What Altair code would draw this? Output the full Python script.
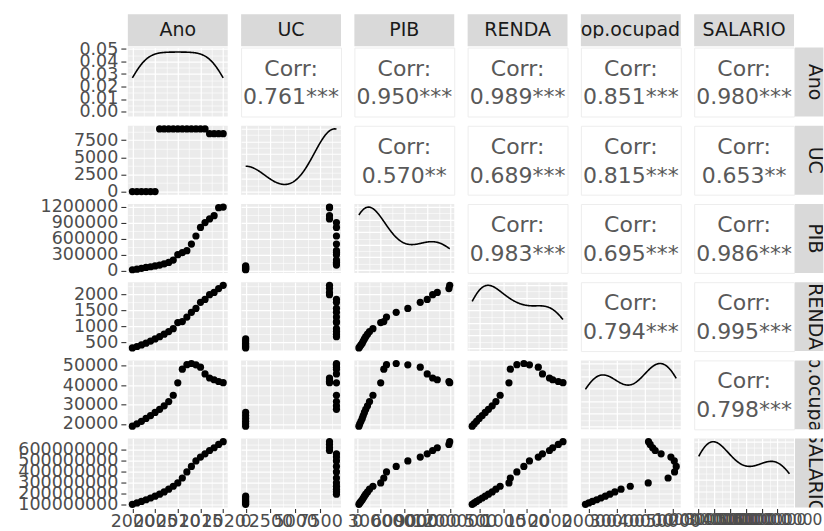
import altair as alt
import numpy as np
import pandas as pd

# ---------------------------------------------------------------- data
ano = list(range(2000, 2021))
uc = [0, 0, 0, 0, 0, 0,
      9150, 9150, 9150, 9150, 9150, 9150, 9150, 9150, 9150, 9150, 9150,
      8450, 8450, 8450, 8450]
pib = [19000, 30000, 45000, 62000, 75000, 90000, 107000, 130000, 156000, 200000,
       300000, 340000, 375000, 500000, 650000, 810000, 900000, 970000, 1030000,
       1180000, 1190000]
renda = [330, 375, 425, 480, 545, 610, 680, 760, 840, 930, 1120, 1150, 1290,
         1440, 1560, 1750, 1840, 1990, 2060, 2180, 2280]
pop_ocupada = [18800, 20000, 21300, 22800, 24300, 25900, 27500, 29300, 31500,
               34800, 41200, 48300, 50600, 51200, 50500, 49300, 45800, 43700,
               42800, 41900, 41300]
salario = [105e6, 118e6, 132e6, 147e6, 163e6, 180e6, 198e6, 218e6, 243e6,
           270e6, 300e6, 345e6, 400e6, 450e6, 500e6, 535e6, 565e6, 595e6,
           620e6, 650e6, 675e6]

cols = ["Ano", "UC", "PIB", "RENDA", "PopOcupada", "SALARIO"]
rotulos = ["Ano", "UC", "PIB", "RENDA", "Pop.ocupada", "SALARIO"]

# correlation labels, upper triangle read row by row
corr_txt = ["0.761***", "0.950***", "0.989***", "0.851***", "0.980***",
            "0.570**", "0.689***", "0.815***", "0.653**",
            "0.983***", "0.695***", "0.986***",
            "0.794***", "0.995***",
            "0.798***"]

# axis breaks per variable
breaks = {
    "Ano": [2000, 2005, 2010, 2015, 2020],
    "UC": [0, 2500, 5000, 7500],
    "PIB": [0, 300000, 600000, 900000, 1200000],
    "RENDA": [500, 1000, 1500, 2000],
    "PopOcupada": [20000, 30000, 40000, 50000],
    "SALARIO": [100000000, 200000000, 300000000, 400000000, 500000000, 600000000],
}
dens_breaks = [0.00, 0.01, 0.02, 0.03, 0.04, 0.05]
norm_breaks = [0.0, 0.2, 0.4, 0.6, 0.8, 1.0]

df = pd.DataFrame({"Ano": ano, "UC": uc, "PIB": pib, "RENDA": renda,
                   "PopOcupada": pop_ocupada, "SALARIO": salario})

# ---------------------------------------------------------------- style
FONT = "DejaVu Sans"
W, H = 100, 69                 # panel size
GAP_C, GAP_R = 13.4, 9.3       # gaps between panels
TOP_VIEW_H, TOP_RECT_H = 24, 32   # column strips (rect runs into the row gap)
SIDE_VIEW_W = 16                  # row strips (rect runs back into the column gap)
PANEL_BG = "#EBEBEB"
STRIP_BG = "#D9D9D9"
TXT = "#595959"
LABEL_SIZE = 17.5
STRIP_SIZE = 19


def nrd0(v):
    v = np.asarray(v, float)
    sd = v.std(ddof=1)
    q75, q25 = np.percentile(v, [75, 25])
    lo = min(sd, (q75 - q25) / 1.34)
    if lo <= 0:
        lo = sd
    return 0.9 * lo * len(v) ** -0.2


def extent(col):
    lo, hi = float(df[col].min()), float(df[col].max())
    pad = 0.05 * (hi - lo)
    return [lo - pad, hi + pad]


def grid_axis(major, dom, show, fmt, orient, size=LABEL_SIZE):
    step = major[1] - major[0]
    minors = [m + step / 2 for m in [major[0] - step] + major]
    vals = sorted(set(major + minors))
    vals = [v for v in vals if dom[0] <= v <= dom[1]]
    test = f"abs(datum.value / {step} - round(datum.value / {step})) > 0.001"
    kw = dict(values=vals, grid=True, gridColor="white",
              gridWidth={"condition": {"test": test, "value": 0.6}, "value": 1.2},
              domain=False, title=None, labels=show, ticks=show)
    if show:
        kw.update(format=fmt, labelExpr=f"({test}) ? '' : datum.label",
                  tickOpacity={"condition": {"test": test, "value": 0}, "value": 1},
                  labelOverlap=False, labelFlush=False, labelFontSize=size)
        if orient == "x":
            kw.update(offset=1, tickSize=4, labelPadding=0)
        else:
            kw.update(offset=2, tickSize=5, labelPadding=3)
    return alt.Axis(**kw)


def x_enc(col, show):
    dom = extent(col)
    # the last column's long labels are set a little smaller to stay on the page
    size = 15.5 if col == "SALARIO" else LABEL_SIZE
    return alt.X(f"{col}:Q",
                 scale=alt.Scale(domain=dom, nice=False, zero=False),
                 axis=grid_axis(breaks[col], dom, show, "d", "x", size))


def scatter(xc, yc, show_x, show_y):
    dom = extent(yc)
    return alt.Chart(df).mark_circle(size=52, color="black", opacity=1).encode(
        x=x_enc(xc, show_x),
        y=alt.Y(f"{yc}:Q", scale=alt.Scale(domain=dom, nice=False, zero=False),
                axis=grid_axis(breaks[yc], dom, show_y, "d", "y")),
    ).properties(width=W, height=H,
                 view=alt.ViewBackground(fill=PANEL_BG, stroke=None))


def density(col, show_x, show_y):
    lo, hi = float(df[col].min()), float(df[col].max())
    base = alt.Chart(df).transform_density(
        col, as_=[col, "dens"], bandwidth=nrd0(df[col]), extent=[lo, hi], steps=200)
    if col == "Ano":
        ydom = [-0.004, 0.0512]
        y = alt.Y("dens:Q", scale=alt.Scale(domain=ydom, nice=False, zero=False),
                  axis=grid_axis(dens_breaks, ydom, show_y, ".2f", "y"))
    else:
        base = base.transform_joinaggregate(maxd="max(dens)").transform_calculate(
            dn="datum.dens / datum.maxd")
        ydom = [-0.05, 1.05]
        y = alt.Y("dn:Q", scale=alt.Scale(domain=ydom, nice=False, zero=False),
                  axis=grid_axis(norm_breaks, ydom, False, ".2f", "y"))
    return base.mark_line(color="black", strokeWidth=1.6).encode(
        x=x_enc(col, show_x), y=y,
    ).properties(width=W, height=H,
                 view=alt.ViewBackground(fill=PANEL_BG, stroke=None))


def corr_panel(valor):
    d = pd.DataFrame({"linha": ["Corr:", valor]})
    t1 = alt.Chart(d).transform_filter(alt.datum.linha == "Corr:").mark_text(
        font=FONT, fontSize=22, color=TXT, baseline="middle").encode(
        text="linha:N", x=alt.value(W / 2), y=alt.value(21))
    t2 = alt.Chart(d).transform_filter(alt.datum.linha != "Corr:").mark_text(
        font=FONT, fontSize=22, color=TXT, baseline="middle").encode(
        text="linha:N", x=alt.value(W / 2), y=alt.value(50))
    return alt.layer(t1, t2).properties(
        width=W, height=H,
        view=alt.ViewBackground(fill="white", stroke="#EDEDED", strokeWidth=1))


def strip_top(label):
    d = pd.DataFrame({"rotulo": [label]})
    bg = alt.Chart(d).mark_rect(color=STRIP_BG).encode(
        x=alt.value(0), x2=alt.value(W), y=alt.value(0), y2=alt.value(TOP_RECT_H))
    tx = alt.Chart(d).mark_text(font=FONT, fontSize=STRIP_SIZE, color="#1A1A1A",
                                clip=True, baseline="middle").encode(
        text="rotulo:N", x=alt.value(W / 2), y=alt.value(TOP_RECT_H / 2))
    return alt.layer(bg, tx).properties(width=W, height=TOP_VIEW_H)


def strip_right(label):
    d = pd.DataFrame({"rotulo": [label]})
    bg = alt.Chart(d).mark_rect(color=STRIP_BG).encode(
        x=alt.value(-(GAP_C - 1)), x2=alt.value(SIDE_VIEW_W),
        y=alt.value(0), y2=alt.value(H))
    tx = alt.Chart(d).mark_text(font=FONT, fontSize=STRIP_SIZE, color="#1A1A1A",
                                clip=True, angle=90, baseline="middle").encode(
        text="rotulo:N", x=alt.value(7.6), y=alt.value(H / 2))
    return alt.layer(bg, tx).properties(width=SIDE_VIEW_W, height=H)


def corner(w, h):
    # empty top-right cell of the grid
    d = pd.DataFrame({"rotulo": [""]})
    return alt.Chart(d).mark_rect(opacity=0).encode(
        x=alt.value(0), x2=alt.value(1), y=alt.value(0), y2=alt.value(1)
    ).properties(width=w, height=h)


# ---------------------------------------------------------------- matrix
cells = [strip_top(r) for r in rotulos] + [corner(SIDE_VIEW_W, TOP_VIEW_H)]
k = 0
for i in range(6):
    for j in range(6):
        show_x = i == 5
        show_y = j == 0
        if i == j:
            cells.append(density(cols[i], show_x, show_y))
        elif i < j:
            cells.append(corr_panel(corr_txt[k]))
            k += 1
        else:
            cells.append(scatter(cols[j], cols[i], show_x, show_y))
    cells.append(strip_right(rotulos[i]))

chart = alt.concat(
    *cells, columns=7, spacing={"row": GAP_R, "column": GAP_C},
    bounds="flush", align="each",
).properties(
    padding={"left": 17, "top": 14, "right": 0, "bottom": 0},
    background="white",
).configure_view(stroke=None).configure_axis(
    labelFont=FONT, labelColor="#4D4D4D",
    tickColor="#333333", tickWidth=1.1,
)

chart.save("out.html", embed_options={"renderer": "svg", "actions": False})
